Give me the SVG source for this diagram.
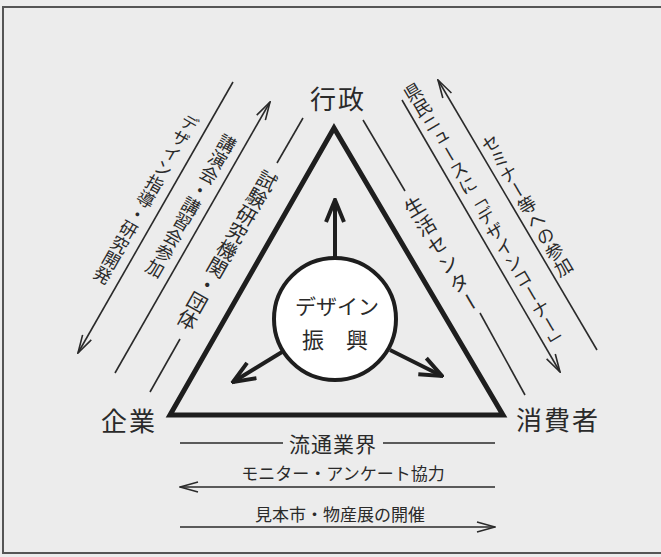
<svg xmlns="http://www.w3.org/2000/svg" width="661" height="557" viewBox="0 0 661 557">
<style>
text{font-family:"Noto Sans CJK JP","Noto Sans",sans-serif;fill:#2a2a2a;dominant-baseline:central;text-anchor:middle}
.v{writing-mode:vertical-rl}
.ln{stroke:#2a2a2a;stroke-width:1.6;fill:none}
.th{stroke:#1e1e1e;stroke-width:4;fill:none}
</style>
<defs>
<marker id="ah" viewBox="0 0 20 12" refX="19" refY="6" markerWidth="20" markerHeight="12" orient="auto-start-reverse" markerUnits="userSpaceOnUse">
<path d="M1,1 L19,6 L1,11" fill="none" stroke="#2a2a2a" stroke-width="1.6"/>
</marker>
<marker id="ahb" viewBox="0 0 26 22" refX="24" refY="11" markerWidth="26" markerHeight="22" orient="auto" markerUnits="userSpaceOnUse">
<path d="M2,2 L24,11 L2,20" fill="none" stroke="#1e1e1e" stroke-width="4"/>
</marker>
</defs>
<rect width="661" height="557" fill="#ececec"/>
<path d="M661,7 H3 V553 H661" fill="none" stroke="#555" stroke-width="2"/>

<g id="gyosei"><text x="338" y="97" font-size="26" letter-spacing="2">行政</text></g>
<g id="kigyo"><text x="129" y="419" font-size="26" letter-spacing="2">企業</text></g>
<g id="shohisha"><text x="558" y="418" font-size="26" letter-spacing="2">消費者</text></g>

<g id="triangle"><path d="M334,128 L170,415 L503,415 Z" fill="none" stroke="#1e1e1e" stroke-width="5" stroke-linejoin="miter"/></g>

<g id="center">
<circle cx="335" cy="319" r="61" fill="#fff" stroke="#1e1e1e" stroke-width="4"/>
<text x="337" y="305" font-size="21">デザイン</text>
<text x="335" y="338" font-size="22">振　興</text>
</g>

<g id="connectors">
<line class="th" x1="335" y1="258" x2="335" y2="200" marker-end="url(#ahb)"/>
<line class="th" x1="282" y1="352" x2="233" y2="382" marker-end="url(#ahb)"/>
<line class="th" x1="390" y1="350" x2="442" y2="376" marker-end="url(#ahb)"/>

<line class="ln" x1="233" y1="82" x2="78" y2="353" marker-end="url(#ah)"/>
<line class="ln" x1="115" y1="373" x2="270" y2="102" marker-end="url(#ah)"/>
<line class="ln" x1="303" y1="118" x2="277" y2="163"/>
<line class="ln" x1="180" y1="339" x2="150" y2="392"/>

<line class="ln" x1="597" y1="350" x2="438" y2="80" marker-end="url(#ah)"/>
<line class="ln" x1="402" y1="100" x2="560" y2="372" marker-end="url(#ah)"/>
<line class="ln" x1="363" y1="120" x2="405" y2="191"/>
<line class="ln" x1="480" y1="313" x2="525" y2="395"/>

<line class="ln" x1="180" y1="443" x2="283" y2="443"/>
<line class="ln" x1="383" y1="443" x2="495" y2="443"/>
<line class="ln" x1="495" y1="487" x2="180" y2="487" marker-end="url(#ah)"/>
<line class="ln" x1="180" y1="527" x2="495" y2="527" marker-end="url(#ah)"/>
</g>

<g id="label-left">
<text class="v" x="146" y="199" font-size="17.5" transform="rotate(29.7 146 199)">デザイン指導・研究開発</text>
<text class="v" x="191" y="206" font-size="18" transform="rotate(29.7 191 206)">講演会・講習会参加</text>
<text class="v" x="227" y="250" font-size="20" transform="rotate(29.7 227 250)">試験研究機関・団体</text>
</g>
<g id="label-right">
<text class="v" x="527" y="205" font-size="18" transform="rotate(-30.5 527 205)">セミナー等への参加</text>
<text class="v" x="486" y="216" font-size="18" transform="rotate(-30.5 486 216)">県民ニュースに「デザインコーナー」</text>
<text class="v" x="443" y="255" font-size="20" letter-spacing="2" transform="rotate(-30.5 443 255)">生活センター</text>
</g>
<g id="label-bottom">
<text x="333" y="443" font-size="21" letter-spacing="1">流通業界</text>
<text x="343" y="472" font-size="17">モニター・アンケート協力</text>
<text x="340" y="513" font-size="17">見本市・物産展の開催</text>
</g>
</svg>
